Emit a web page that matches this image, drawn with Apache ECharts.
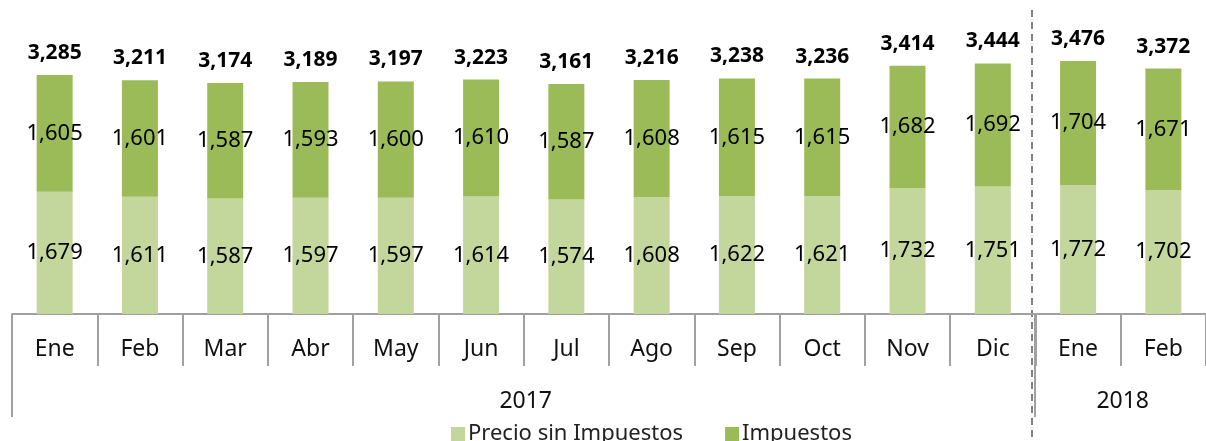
<!DOCTYPE html>
<html>
<head>
<meta charset="utf-8">
<script src="https://cdn.jsdelivr.net/npm/echarts@6/dist/echarts.min.js"></script>
<style>
  html, body { margin: 0; padding: 0; background: #fff; }
  #chart { width: 1206px; height: 441px; }
</style>
</head>
<body>
<div id="chart"></div>
<script>
// Monthly price split: base price and taxes, Jan 2017 – Feb 2018
const months = ['Ene', 'Feb', 'Mar', 'Abr', 'May', 'Jun', 'Jul', 'Ago', 'Sep', 'Oct', 'Nov', 'Dic', 'Ene', 'Feb'];
const years = [
  { label: '2017', from: 0, to: 11 },
  { label: '2018', from: 12, to: 13 }
];
const precioSinImpuestos = [1679, 1611, 1587, 1597, 1597, 1614, 1574, 1608, 1622, 1621, 1732, 1751, 1772, 1702];
const impuestos = [1605, 1601, 1587, 1593, 1600, 1610, 1587, 1608, 1615, 1615, 1682, 1692, 1704, 1671];
const totales = [3285, 3211, 3174, 3189, 3197, 3223, 3161, 3216, 3238, 3236, 3414, 3444, 3476, 3372];

const FONT = '"Noto Sans", "Open Sans", sans-serif';
const AXIS_GREY = '#a0a0a0';
const fmt = v => v.toLocaleString('en-US');

const chart = echarts.init(document.getElementById('chart'), null, { renderer: 'canvas' });

const GRID_LEFT = 12, GRID_TOP = 23, GRID_BOTTOM_Y = 314;

chart.setOption({
  animation: false,
  textStyle: { fontFamily: FONT },
  grid: { left: GRID_LEFT, top: GRID_TOP, width: 1207, height: GRID_BOTTOM_Y - GRID_TOP, containLabel: false },
  legend: {
    data: ['Precio sin Impuestos', 'Impuestos'],
    left: 446, top: 418,
    itemWidth: 14, itemHeight: 14, itemGap: 42,
    icon: 'rect',
    textStyle: { fontSize: 22, color: '#222', fontFamily: FONT, padding: [0, 0, 0, -2] }
  },
  xAxis: {
    type: 'category',
    data: months,
    axisLine: { lineStyle: { color: AXIS_GREY, width: 2 } },
    axisTick: { show: true, interval: 0, length: 52, lineStyle: { color: AXIS_GREY, width: 2 } },
    axisLabel: { interval: 0, margin: 24, fontSize: 23, color: '#111', fontFamily: FONT }
  },
  yAxis: {
    type: 'value', min: 0, max: 4000, show: false,
    splitLine: { show: false }
  },
  series: [
    {
      name: 'Precio sin Impuestos', type: 'bar', stack: 'precio', barWidth: 36,
      itemStyle: { color: '#c3d69b' },
      label: { show: true, position: 'inside', fontSize: 22, color: '#000', fontFamily: FONT, formatter: p => fmt(p.value) },
      data: precioSinImpuestos
    },
    {
      name: 'Impuestos', type: 'bar', stack: 'precio', barWidth: 36,
      itemStyle: { color: '#9bbb59' },
      label: { show: true, position: 'inside', fontSize: 22, color: '#000', fontFamily: FONT, formatter: p => fmt(p.value) },
      data: impuestos
    },
    {
      name: 'Total', type: 'line', data: totales,
      symbol: 'circle', symbolSize: 1, showSymbol: true,
      itemStyle: { color: 'rgba(0,0,0,0)' },
      lineStyle: { opacity: 0 }, silent: true,
      label: { show: true, position: 'top', distance: 11, fontSize: 21, fontWeight: 'bold', color: '#000', fontFamily: FONT, formatter: p => fmt(p.value) }
    }
  ]
});

// Year row, separators and the dashed divider between years
const c0 = chart.convertToPixel({ xAxisIndex: 0 }, 0);
const c1 = chart.convertToPixel({ xAxisIndex: 0 }, 1);
const band = c1 - c0;
const edge = i => c0 - band / 2 + i * band;
const graphics = [];
years.forEach(y => {
  const x0 = edge(y.from), x1 = edge(y.to + 1);
  graphics.push({
    type: 'text', x: (x0 + x1) / 2 + 2, y: 401,
    style: { text: y.label, fill: '#111', font: '23px ' + FONT, align: 'center', verticalAlign: 'middle' }
  });
  graphics.push({
    type: 'line', shape: { x1: Math.round(x0), y1: GRID_BOTTOM_Y, x2: Math.round(x0), y2: 417 },
    style: { stroke: AXIS_GREY, lineWidth: 2 }
  });
});
const divX = Math.round(edge(12)) - 3;
graphics.push({
  type: 'line', shape: { x1: divX, y1: 10, x2: divX, y2: 441 },
  style: { stroke: '#808080', lineWidth: 2, lineDash: [7, 5] }
});
chart.setOption({ graphic: graphics });
</script>
</body>
</html>
